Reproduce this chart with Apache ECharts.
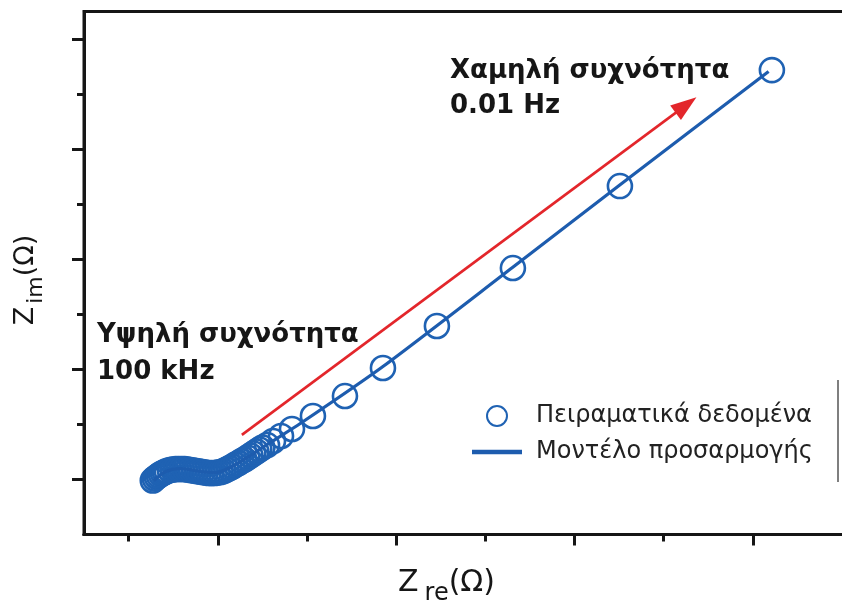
<!DOCTYPE html>
<html>
<head>
<meta charset="utf-8">
<script src="https://cdn.jsdelivr.net/npm/echarts@6/dist/echarts.min.js"></script>
<style>
  html, body { margin: 0; padding: 0; background: #ffffff; }
  #chart { width: 842px; height: 605px; }
</style>
</head>
<body>
<div id="chart"></div>
<script>
// Nyquist plot of an impedance spectrum: measured points and fitted model.

// Measured points, from 100 kHz (left, dense cluster) down to 0.01 Hz (top right)
const measuredRe = [
  7.71, 7.93, 8.16, 8.38, 8.60, 8.83, 9.05, 9.27, 9.61, 9.94,
  10.28, 10.61, 10.95, 11.28, 11.62, 11.96, 12.29, 12.63, 12.96, 13.30,
  13.63, 13.97, 14.30, 14.64, 14.97, 15.31, 15.64, 15.98, 16.31, 16.65,
  16.98, 17.32, 17.65, 17.99, 18.32, 18.66, 18.99, 19.33, 19.66, 20.00,
  20.52, 21.19, 22.09, 23.32, 25.67, 29.26, 33.52, 39.57, 48.09, 60.09, 77.13
];
const measuredIm = [
  9.81, 10.17, 10.45, 10.72, 10.99, 11.17, 11.35, 11.53, 11.72, 11.81,
  11.90, 11.90, 11.90, 11.90, 11.81, 11.72, 11.63, 11.53, 11.44, 11.35,
  11.26, 11.17, 11.17, 11.17, 11.26, 11.35, 11.53, 11.81, 12.08, 12.35,
  12.72, 12.99, 13.35, 13.62, 13.99, 14.35, 14.71, 15.08, 15.44, 15.80,
  16.25, 16.98, 17.89, 19.16, 21.52, 25.15, 30.24, 37.87, 48.40, 63.29, 84.36
];

// Fitted equivalent-circuit model
const modelRe = [7.82, 9.16, 10.84, 13.07, 14.75, 16.42, 18.66, 20.89, 24.25, 33.52, 48.04, 60.00, 76.76];
const modelIm = [9.81, 11.44, 11.99, 11.44, 11.26, 12.17, 14.35, 16.71, 20.16, 30.52, 48.50, 63.40, 84.10];

// Axis tick positions (no tick labels are printed)
const xMajorTicks = [15, 35, 55, 75];
const xMinorTicks = [5, 25, 45, 65];
const yMajorTicks = [10, 30, 50, 70, 90];
const yMinorTicks = [20, 40, 60, 80];

// Frequency-direction arrow (data coordinates)
const arrowFrom = [17.7, 18.1];
const arrowTo = [67.5, 78.0];

const seriesNames = ['Πειραματικά δεδομένα', 'Μοντέλο προσαρμογής'];
const highFreqText = 'Υψηλή συχνότητα\n100 kHz';
const lowFreqText = 'Χαμηλή συχνότητα\n0.01 Hz';

const BLUE = '#1f62b3';
const LINE_BLUE = '#1d5cae';
const RED = '#e3262b';
const INK = '#161616';
const FONT = '"DejaVu Sans", "Noto Sans", sans-serif';

const measured = measuredRe.map((x, i) => [x, measuredIm[i]]);
const model = modelRe.map((x, i) => [x, modelIm[i]]);

function tickAxis(base, values, len) {
  return Object.assign({}, base, {
    axisTick: { show: true, length: len, customValues: values,
      lineStyle: { color: INK, width: 3 } }
  });
}

const xBase = {
  type: 'value', min: 0, max: 86, position: 'bottom',
  axisLine: { show: true, lineStyle: { color: INK, width: 3 } },
  axisLabel: { show: false }, splitLine: { show: false }
};
const yBase = {
  type: 'value', min: 0, max: 95, position: 'left',
  axisLine: { show: true, lineStyle: { color: INK, width: 3 } },
  axisLabel: { show: false }, splitLine: { show: false }
};

const chart = echarts.init(document.getElementById('chart'), null, { renderer: 'canvas' });
chart.setOption({
  animation: false,
  backgroundColor: '#ffffff',
  grid: {
    left: 84, top: 11.5, width: 767, height: 523,
    outerBoundsMode: 'none', containLabel: false,
    show: true, borderColor: INK, borderWidth: 3, backgroundColor: 'transparent'
  },
  xAxis: [
    Object.assign(tickAxis(xBase, xMajorTicks, 11), {
      name: '{z|Z}{s|re}{z|(Ω)}',
      nameLocation: 'middle', nameGap: 27,
      nameTextStyle: {
        padding: [0, 42, 0, 0],
        rich: {
          z: { fontFamily: FONT, fontSize: 30, lineHeight: 44, color: INK },
          s: { fontFamily: FONT, fontSize: 24, lineHeight: 28, verticalAlign: 'bottom', color: INK, padding: [0, 0, 0, 6] }
        }
      }
    }),
    tickAxis(xBase, xMinorTicks, 7)
  ],
  yAxis: [
    Object.assign(tickAxis(yBase, yMajorTicks, 12), {
      name: '{z|Z}{s|im}{z|(Ω)}',
      nameLocation: 'middle', nameGap: 37, nameRotate: 90,
      nameTextStyle: {
        padding: [0, 14, 0, 0],
        rich: {
          z: { fontFamily: FONT, fontSize: 27, lineHeight: 42, color: INK },
          s: { fontFamily: FONT, fontSize: 22, lineHeight: 26, verticalAlign: 'bottom', color: INK, padding: [0, 0, 0, 3] }
        }
      }
    }),
    tickAxis(yBase, yMinorTicks, 7)
  ],
  legend: {
    orient: 'vertical',
    left: 467, top: 399,
    itemWidth: 50, itemHeight: 20, itemGap: 12,
    symbolKeepAspect: true,
    textStyle: { fontFamily: FONT, fontSize: 24, color: '#222', padding: [0, 0, 0, 9] },
    data: [
      { name: seriesNames[0] },
      { name: seriesNames[1], icon: 'path://M0,0 L50,0 L50,4.5 L0,4.5 Z', itemStyle: { color: LINE_BLUE } }
    ]
  },
  series: [
    {
      name: seriesNames[0],
      type: 'scatter',
      data: measured,
      symbol: 'circle',
      symbolSize: 24,
      itemStyle: { color: 'rgba(255,255,255,0)', borderColor: BLUE, borderWidth: 2.6, opacity: 1 },
      emphasis: { disabled: true },
      z: 3
    },
    {
      name: seriesNames[1],
      type: 'line',
      data: model,
      symbol: 'none',
      showSymbol: false,
      smooth: 0.25,
      lineStyle: { color: LINE_BLUE, width: 3.2 },
      itemStyle: { color: LINE_BLUE },
      z: 4,
      markLine: {
        silent: true,
        animation: false,
        symbol: ['none', 'triangle'],
        symbolSize: [18, 26],
        label: { show: false },
        lineStyle: { color: RED, width: 2.6, type: 'solid' },
        itemStyle: { color: RED },
        emphasis: { disabled: true },
        data: [[{ coord: arrowFrom }, { coord: arrowTo }]]
      }
    }
  ],
  graphic: [
    {
      type: 'text', left: 450, top: 54, z: 10,
      style: { text: lowFreqText, fontFamily: FONT, fontWeight: 'bold', fontSize: 26, lineHeight: 35, fill: INK }
    },
    {
      type: 'text', left: 97, top: 317, z: 10,
      style: { text: highFreqText, fontFamily: FONT, fontWeight: 'bold', fontSize: 26, lineHeight: 37, fill: INK }
    },
    {
      type: 'line', z: 10,
      shape: { x1: 838, y1: 380, x2: 838, y2: 482 },
      style: { stroke: '#555', lineWidth: 1.5 }
    }
  ]
});
</script>
</body>
</html>
